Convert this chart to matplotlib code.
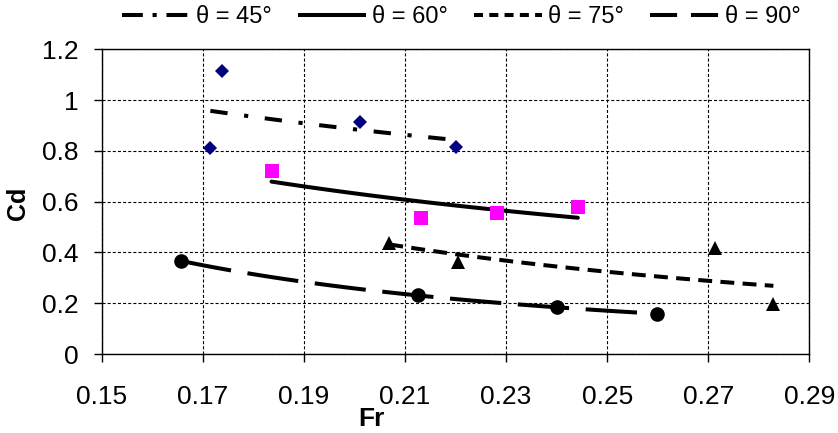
import numpy as np
import matplotlib
matplotlib.use("Agg")
import matplotlib.pyplot as plt
from matplotlib.lines import Line2D
from matplotlib.ticker import FuncFormatter

plt.rcParams['font.family'] = ['Liberation Sans', 'DejaVu Sans']
plt.rcParams['lines.scale_dashes'] = False

# Data (Fr, Cd)
fr_45 = [0.1715, 0.1738, 0.2011, 0.2201]
cd_45 = [0.8125, 1.116, 0.915, 0.8165]
fr_60 = [0.1836, 0.2131, 0.2282, 0.2442]
cd_60 = [0.721, 0.536, 0.554, 0.580]
fr_75 = [0.2069, 0.2205, 0.2714, 0.2829]
cd_75 = [0.436, 0.3635, 0.416, 0.197]
fr_90 = [0.1656, 0.2126, 0.2401, 0.2599]
cd_90 = [0.366, 0.232, 0.184, 0.158]

labels = ['θ = 45°', 'θ = 60°', 'θ = 75°', 'θ = 90°']
x_ticks = [0.15, 0.17, 0.19, 0.21, 0.23, 0.25, 0.27, 0.29]
y_ticks = [0, 0.2, 0.4, 0.6, 0.8, 1.0, 1.2]

W, H = 838, 433
fig = plt.figure(figsize=(W / 100, H / 100), dpi=100)
ax = fig.add_axes([101.7 / W, 1 - 354 / H, (809.3 - 101.7) / W, (354 - 49.3) / H])

series = [
    (fr_45, cd_45, dict(marker='D', color='#000080', ms=6.8), (0, (12.5, 12, 3, 12)), (0, (15, 7, 3, 7))),
    (fr_60, cd_60, dict(marker='s', color='#FF00FF', ms=10.5), '-', '-'),
    (fr_75, cd_75, dict(marker='^', color='black', ms=10.5), (0, (10, 6)), (0, (6.5, 4.5))),
    (fr_90, cd_90, dict(marker='o', color='black', ms=10.5), (0, (37, 12)), (0, (19.5, 10))),
]

handles = []
for (xs, ys, mk, ls, lls), lab in zip(series, labels):
    xs = np.asarray(xs)
    ys = np.asarray(ys)
    # power trendline fitted to the points (as in the source chart)
    b, a = np.polyfit(np.log(xs), np.log(ys), 1)
    xf = np.linspace(xs.min(), xs.max(), 60)
    yf = np.exp(a) * xf ** b
    ax.plot(xf, yf, color='black', lw=2.9, linestyle=ls,
            dash_capstyle='butt', solid_capstyle='round', zorder=3)
    ax.plot(xs, ys, linestyle='none', marker=mk['marker'], color=mk['color'],
            markersize=mk['ms'], markeredgewidth=0, zorder=4)
    handles.append(Line2D([], [], color='black', lw=2.9, linestyle=lls,
                          dash_capstyle='butt', solid_capstyle='butt'))

ax.set_xlim(0.15, 0.29)
ax.set_ylim(0, 1.2)
ax.set_xticks(x_ticks)
ax.set_yticks(y_ticks)
fmt = FuncFormatter(lambda v, p: ('%g' % round(v, 4)))
ax.xaxis.set_major_formatter(fmt)
ax.yaxis.set_major_formatter(fmt)
ax.grid(True, color='black', linestyle=(0, (2.2, 1.5)), linewidth=0.8, zorder=1)
ax.set_axisbelow(True)
for s in ax.spines.values():
    s.set_color('black')
    s.set_linewidth(1.0)
ax.tick_params(axis='both', direction='out', length=5.5, width=1.0, colors='black',
               labelsize=19)
ax.tick_params(axis='x', pad=17)
ax.tick_params(axis='y', pad=11)

fig.text(17.5 / W, 1 - 203 / H, 'Cd', rotation=90, ha='center', va='center',
         fontsize=18, fontweight='bold')
fig.text(371 / W, 1 - 419 / H, 'Fr', ha='center', va='center',
         fontsize=19, fontweight='bold')

fig.legend(handles=handles, labels=labels, loc='center', ncol=4,
           bbox_to_anchor=(461 / W, 1 - 17 / H), frameon=False,
           fontsize=17, handlelength=2.9, handletextpad=0.25, columnspacing=1.1,
           borderpad=0, borderaxespad=0)

fig.savefig('out.png', dpi=100)
